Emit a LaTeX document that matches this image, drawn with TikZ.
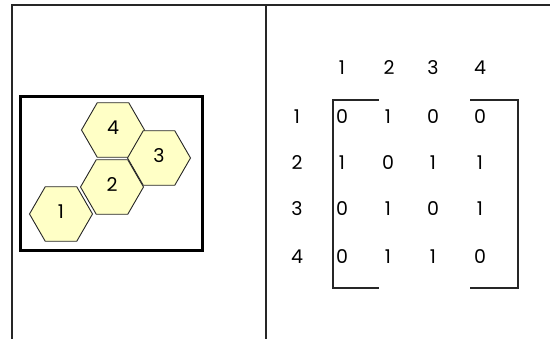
\documentclass[tikz,border=0pt]{standalone}
\usepackage{fontspec}
\setmainfont{Poppins}
\usepackage{tikz}
\usetikzlibrary{positioning, shapes.geometric}
\definecolor{hexfill}{RGB}{255,255,198}

\begin{document}
\begin{tikzpicture}[
		x=1pt,
		y=-1pt,
		font=\fontsize{19}{21}\selectfont,
		frame/.style={line width=1.3pt, black!85},
		cell/.style={regular polygon, regular polygon sides=6, minimum size=63pt, inner sep=0pt, draw=black!85, line width=0.9pt, fill=hexfill},
		entry/.style={inner sep=0pt, anchor=center},
		bracket/.style={line width=1.3pt, black!85}
		]
		\useasboundingbox (0,0) rectangle (550,339);
		
		% Table frame
		\draw[frame] (12,339) -- (12,5) -- (550,5);
		\draw[frame] (266,5) -- (266,339);
		
		% Region map
		\draw[line width=3pt] (20,97) rectangle (202,251);
		\node[cell] (r4) at (113,130) {};
		\node[cell] (r3) at (159,158) {};
		\node[cell] (r2) at (112,187) {};
		\node[cell] (r1) at (61,214) {};
		\node at ([yshift=2pt]r4.center) {4};
		\node at ([yshift=2pt]r3.center) {3};
		\node at ([yshift=2pt]r2.center) {2};
		\node at ([yshift=2pt]r1.center) {1};
		
		% Column labels
		\node[entry] (c1) at (342,68) {1};
		\node[entry] (c2) at (389,68) {2};
		\node[entry] (c3) at (433,68) {3};
		\node[entry] (c4) at (480,68) {4};
		
		% Row labels
		\node[entry] (l1) at (297,117) {1};
		\node[entry] (l2) at (297,163) {2};
		\node[entry] (l3) at (297,209) {3};
		\node[entry] (l4) at (297,257) {4};
		
		% Adjacency entries
		\node[entry] (m11) at (342,117) {0};
		\node[entry] (m12) at (388,117) {1};
		\node[entry] (m13) at (433,117) {0};
		\node[entry] (m14) at (480,117) {0};
		\node[entry] (m21) at (342,163) {1};
		\node[entry] (m22) at (388,163) {0};
		\node[entry] (m23) at (433,163) {1};
		\node[entry] (m24) at (480,163) {1};
		\node[entry] (m31) at (342,209) {0};
		\node[entry] (m32) at (388,209) {1};
		\node[entry] (m33) at (433,209) {0};
		\node[entry] (m34) at (480,209) {1};
		\node[entry] (m41) at (342,257) {0};
		\node[entry] (m42) at (388,257) {1};
		\node[entry] (m43) at (433,257) {1};
		\node[entry] (m44) at (480,257) {0};
		
		% Brackets
		\draw[bracket] (379,100) -- (333,100) -- (333,288) -- (379,288);
		\draw[bracket] (470,100) -- (518,100) -- (518,288) -- (470,288);
	\end{tikzpicture}
\end{document}
